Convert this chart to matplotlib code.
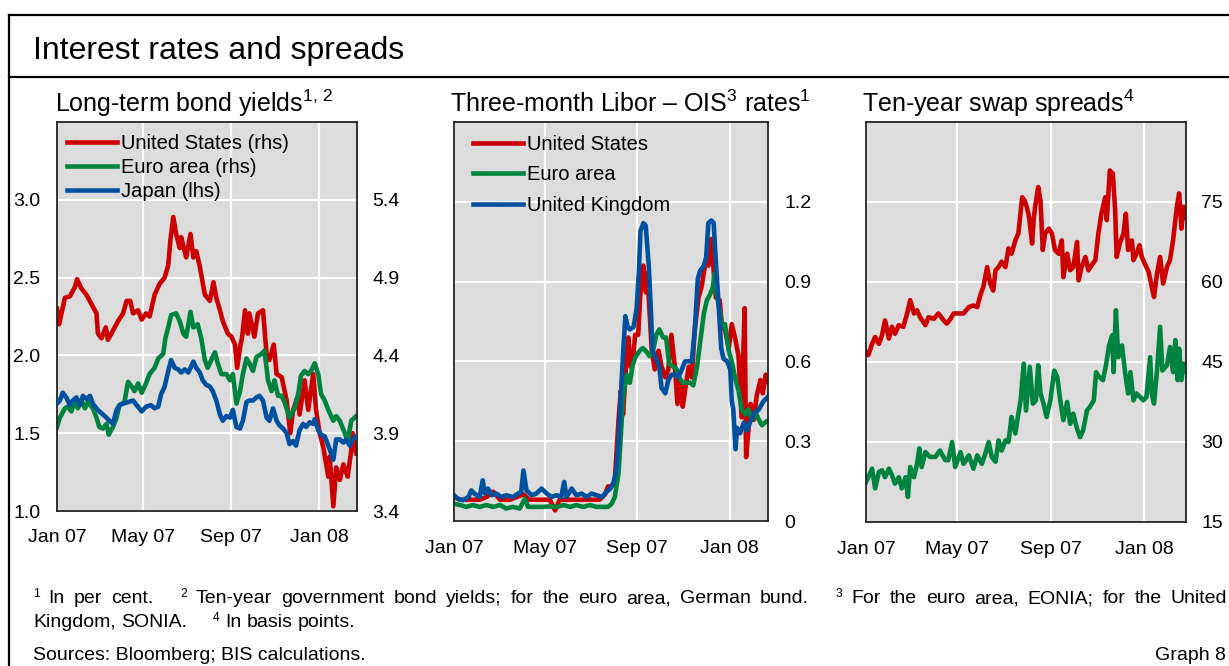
import numpy as np
import matplotlib
matplotlib.use('Agg')
import matplotlib.pyplot as plt
from matplotlib.lines import Line2D

plt.rcParams['font.family'] = ['Liberation Sans', 'DejaVu Sans']
plt.rcParams['mathtext.fontset'] = 'custom'
plt.rcParams['mathtext.rm'] = 'Liberation Sans'
plt.rcParams['mathtext.it'] = 'Liberation Sans:italic'
plt.rcParams['mathtext.bf'] = 'Liberation Sans:bold'

START = np.datetime64('2007-01-01')

# ---------------- data (days since 1 Jan 2007, values) ----------------
# Panel 1: long-term bond yields
us_yield_days = [0, 3, 11, 18, 25, 28, 34, 41, 48, 55, 57, 62, 68, 71, 78, 85, 92, 97, 102, 106,
                 113, 118, 124, 129, 136, 143, 150, 155, 158, 162, 166, 171, 173, 180, 186, 190,
                 194, 199, 206, 213, 218, 222, 227, 231, 238, 243, 248, 251, 255, 258, 262, 266,
                 268, 275, 280, 287, 292, 296, 302, 306, 313, 320, 325, 329, 335, 338, 345, 350,
                 357, 361, 366, 371, 378, 380, 385, 389, 394, 399, 405, 410, 412, 417]
us_yield = [4.70, 4.60, 4.77, 4.78, 4.84, 4.89, 4.83, 4.79, 4.73, 4.67, 4.54, 4.51, 4.58, 4.50,
            4.56, 4.62, 4.67, 4.75, 4.75, 4.67, 4.69, 4.63, 4.67, 4.65, 4.79, 4.86, 4.90, 4.98,
            5.14, 5.29, 5.18, 5.09, 5.16, 5.03, 5.18, 5.03, 5.07, 4.97, 4.79, 4.75, 4.87, 4.77,
            4.69, 4.62, 4.54, 4.52, 4.47, 4.32, 4.45, 4.52, 4.69, 4.54, 4.67, 4.52, 4.67, 4.69,
            4.41, 4.37, 4.47, 4.28, 4.26, 4.11, 3.90, 4.05, 4.13, 4.02, 4.24, 4.05, 4.28, 4.05,
            3.90, 3.81, 3.62, 3.75, 3.43, 3.68, 3.60, 3.70, 3.62, 3.79, 3.90, 3.77]

euro_yield_days = [0, 4, 11, 15, 20, 25, 29, 34, 39, 43, 50, 55, 59, 64, 69, 72, 78, 83, 87, 94,
                   99, 104, 108, 113, 118, 124, 129, 136, 141, 148, 151, 155, 159, 166, 171, 176,
                   180, 186, 190, 196, 201, 206, 210, 215, 220, 224, 229, 236, 241, 245, 250, 255,
                   259, 264, 268, 273, 278, 285, 289, 292, 294, 299, 303, 308, 313, 317, 324, 331,
                   336, 340, 345, 350, 354, 359, 364, 368, 373, 378, 385, 389, 394, 401, 405, 410, 417]
euro_yield = [3.94, 4.00, 4.06, 4.07, 4.04, 4.11, 4.06, 4.11, 4.06, 4.10, 4.06, 4.00, 3.94, 3.93,
              3.96, 3.89, 3.94, 4.00, 4.08, 4.10, 4.23, 4.20, 4.17, 4.22, 4.16, 4.22, 4.28, 4.32,
              4.38, 4.41, 4.51, 4.58, 4.66, 4.67, 4.62, 4.54, 4.52, 4.68, 4.58, 4.60, 4.51, 4.37,
              4.32, 4.37, 4.42, 4.35, 4.28, 4.28, 4.24, 4.28, 4.09, 4.17, 4.28, 4.38, 4.35, 4.30,
              4.39, 4.41, 4.43, 4.32, 4.24, 4.17, 4.24, 4.14, 4.14, 4.10, 4.00, 4.06, 4.15, 4.27,
              4.30, 4.28, 4.30, 4.35, 4.28, 4.15, 4.11, 4.05, 3.98, 4.01, 3.98, 3.90, 3.85, 3.98, 4.01]

japan_yield_days = [0, 4, 8, 13, 18, 22, 27, 32, 36, 41, 46, 50, 55, 59, 64, 69, 73, 78, 83, 87,
                    92, 99, 106, 111, 118, 124, 131, 136, 141, 145, 150, 155, 159, 164, 169, 173,
                    178, 183, 190, 194, 199, 203, 208, 213, 217, 222, 227, 231, 236, 241, 245, 250,
                    255, 259, 264, 268, 273, 278, 282, 287, 292, 296, 301, 306, 310, 315, 320, 324,
                    329, 333, 338, 343, 347, 352, 357, 359, 364, 368, 373, 378, 382, 385, 389, 394,
                    399, 403, 408, 412, 417]
japan_yield = [1.69, 1.71, 1.76, 1.73, 1.68, 1.71, 1.73, 1.68, 1.74, 1.72, 1.74, 1.69, 1.66, 1.64,
               1.62, 1.60, 1.58, 1.56, 1.65, 1.68, 1.69, 1.70, 1.71, 1.68, 1.64, 1.67, 1.68, 1.66,
               1.67, 1.75, 1.80, 1.90, 1.97, 1.92, 1.91, 1.89, 1.91, 1.89, 1.96, 1.92, 1.89, 1.84,
               1.81, 1.80, 1.77, 1.71, 1.62, 1.58, 1.61, 1.60, 1.65, 1.54, 1.53, 1.58, 1.70, 1.71,
               1.71, 1.73, 1.74, 1.71, 1.60, 1.58, 1.66, 1.58, 1.55, 1.53, 1.50, 1.43, 1.45, 1.42,
               1.52, 1.56, 1.54, 1.57, 1.56, 1.59, 1.52, 1.49, 1.48, 1.42, 1.37, 1.33, 1.46, 1.46,
               1.44, 1.46, 1.42, 1.46, 1.48]

# Panel 2: three-month Libor - OIS spreads
us_libor_days = [0, 8, 16, 25, 34, 43, 52, 61, 74, 83, 92, 100, 109, 118, 127, 134, 140, 149, 158,
                 167, 176, 185, 193, 200, 204, 209, 213, 218, 221, 224, 228, 231, 234, 237, 240, 244,
                 247, 251, 254, 256, 259, 262, 266, 271, 275, 280, 284, 288, 293, 296, 300, 303, 306,
                 311, 315, 319, 324, 328, 333, 337, 341, 344, 347, 352, 355, 359, 364, 368, 373, 377,
                 381, 385, 387, 390, 393, 397, 401, 406, 409, 413, 417]
us_libor = [0.09, 0.08, 0.08, 0.08, 0.08, 0.09, 0.11, 0.08, 0.08, 0.09, 0.10, 0.08, 0.08, 0.08,
            0.08, 0.04, 0.08, 0.08, 0.08, 0.08, 0.08, 0.08, 0.08, 0.10, 0.13, 0.13, 0.15, 0.38,
            0.49, 0.40, 0.59, 0.69, 0.58, 0.60, 0.70, 0.70, 0.86, 0.96, 0.86, 0.93, 0.79, 0.64,
            0.57, 0.64, 0.58, 0.54, 0.57, 0.70, 0.57, 0.44, 0.53, 0.43, 0.49, 0.58, 0.54, 0.72,
            0.84, 0.88, 0.97, 0.96, 1.06, 0.94, 0.84, 0.83, 0.73, 0.72, 0.65, 0.74, 0.68, 0.62,
            0.39, 0.80, 0.24, 0.34, 0.44, 0.38, 0.47, 0.53, 0.48, 0.55, 0.52]

euro_libor_days = [0, 8, 16, 25, 34, 43, 52, 61, 69, 78, 87, 94, 98, 109, 118, 127, 136, 145, 154,
                   162, 171, 180, 189, 198, 204, 209, 213, 218, 221, 224, 229, 233, 237, 241, 246,
                   250, 254, 259, 263, 268, 272, 277, 281, 285, 291, 295, 300, 304, 308, 313, 317,
                   322, 326, 331, 335, 339, 343, 345, 347, 352, 356, 359, 364, 368, 373, 377, 381,
                   386, 390, 395, 399, 404, 408, 412, 417]
euro_libor = [0.065, 0.060, 0.053, 0.060, 0.053, 0.060, 0.053, 0.060, 0.047, 0.053, 0.047, 0.084,
              0.053, 0.053, 0.053, 0.055, 0.053, 0.060, 0.053, 0.060, 0.053, 0.060, 0.053, 0.053,
              0.053, 0.065, 0.09, 0.18, 0.32, 0.47, 0.55, 0.52, 0.59, 0.62, 0.64, 0.65, 0.64,
              0.62, 0.63, 0.70, 0.72, 0.69, 0.69, 0.59, 0.58, 0.57, 0.53, 0.52, 0.52, 0.52, 0.51,
              0.58, 0.67, 0.78, 0.83, 0.85, 0.88, 0.93, 0.87, 0.79, 0.73, 0.74, 0.64, 0.60, 0.53,
              0.49, 0.42, 0.40, 0.42, 0.38, 0.41, 0.38, 0.36, 0.37, 0.38]

uk_libor_days = [0, 5, 12, 19, 23, 27, 34, 38, 41, 45, 50, 56, 63, 69, 78, 85, 89, 92, 96, 103,
                 109, 116, 123, 129, 136, 142, 146, 149, 156, 162, 169, 176, 182, 189, 196, 202,
                 207, 211, 215, 218, 221, 224, 227, 230, 233, 238, 242, 245, 247, 251, 254, 258,
                 261, 263, 268, 272, 275, 280, 284, 288, 293, 297, 302, 306, 311, 315, 319, 323,
                 326, 331, 334, 337, 341, 344, 347, 350, 354, 357, 362, 366, 368, 370, 373, 375,
                 379, 384, 388, 392, 397, 404, 410, 417]
uk_libor = [0.097, 0.084, 0.078, 0.090, 0.115, 0.103, 0.090, 0.153, 0.103, 0.122, 0.097, 0.103,
            0.090, 0.097, 0.090, 0.103, 0.109, 0.190, 0.115, 0.097, 0.103, 0.122, 0.103, 0.090,
            0.097, 0.090, 0.147, 0.090, 0.122, 0.097, 0.103, 0.090, 0.103, 0.097, 0.090, 0.109,
            0.122, 0.141, 0.190, 0.30, 0.47, 0.63, 0.77, 0.73, 0.72, 0.73, 0.80, 0.94, 1.09,
            1.12, 1.11, 0.96, 0.78, 0.64, 0.61, 0.58, 0.50, 0.48, 0.53, 0.55, 0.55, 0.54, 0.57,
            0.60, 0.60, 0.60, 0.72, 0.91, 0.94, 0.96, 0.99, 1.12, 1.13, 1.12, 0.97, 0.84, 0.65,
            0.61, 0.60, 0.57, 0.45, 0.42, 0.27, 0.35, 0.33, 0.37, 0.34, 0.37, 0.40, 0.42, 0.45, 0.47]

# Panel 3: ten-year swap spreads (basis points)
swap_red_days = [0, 3, 8, 12, 17, 21, 25, 30, 34, 38, 43, 49, 54, 58, 63, 67, 71, 78, 82, 89, 95,
                 102, 106, 111, 115, 122, 128, 135, 141, 146, 150, 154, 159, 163, 167, 170, 174,
                 178, 183, 187, 191, 196, 200, 205, 208, 211, 214, 218, 220, 222, 226, 229, 232,
                 235, 240, 244, 248, 253, 257, 259, 264, 268, 272, 277, 279, 283, 288, 292, 296,
                 301, 305, 309, 314, 316, 320, 324, 327, 329, 333, 338, 341, 344, 349, 351, 355,
                 359, 362, 366, 371, 375, 378, 382, 386, 390, 395, 399, 403, 408, 411, 414, 417, 420]
swap_red = [46.9, 46.3, 48.4, 49.7, 48.4, 50.0, 52.8, 49.4, 51.6, 50.3, 51.9, 51.6, 54.1, 56.6,
            54.1, 54.7, 53.4, 51.9, 53.4, 53.1, 54.1, 52.8, 52.2, 53.1, 54.1, 54.1, 54.1, 55.3,
            55.6, 55.3, 57.5, 59.1, 62.8, 59.7, 58.4, 62.2, 62.8, 63.8, 62.8, 66.3, 65.3, 67.8,
            69.1, 75.9, 75.3, 74.1, 72.2, 67.2, 71.6, 74.1, 77.8, 75.3, 66.0, 69.1, 70.0, 69.1,
            66.0, 65.3, 67.8, 60.9, 65.3, 62.2, 62.8, 67.5, 60.3, 62.8, 64.7, 62.2, 63.1, 64.1,
            69.1, 72.8, 75.9, 71.6, 80.9, 80.3, 73.4, 64.7, 67.2, 69.1, 72.8, 66.0, 67.8, 64.1,
            65.3, 66.9, 64.7, 63.4, 61.9, 59.1, 57.2, 61.6, 64.7, 59.7, 62.8, 64.1, 67.8, 74.1,
            76.6, 70.0, 74.1, 72.2]

swap_green_days = [0, 3, 8, 12, 17, 21, 25, 30, 34, 38, 43, 47, 52, 55, 58, 63, 67, 70, 73, 78, 84,
                   91, 97, 104, 108, 113, 117, 124, 128, 135, 141, 146, 152, 156, 161, 165, 170,
                   174, 178, 183, 187, 191, 196, 200, 203, 207, 210, 215, 219, 223, 226, 229, 233,
                   237, 242, 247, 251, 255, 259, 264, 268, 272, 277, 281, 285, 290, 294, 299, 302,
                   306, 311, 315, 319, 323, 325, 328, 331, 336, 340, 344, 347, 351, 355, 360, 364,
                   368, 373, 375, 378, 382, 386, 389, 395, 399, 403, 406, 409, 411, 414, 417, 420]
swap_green = [22.5, 23.4, 25.0, 21.3, 24.4, 24.7, 23.4, 25.0, 23.8, 22.2, 23.4, 21.3, 23.4, 19.7,
              25.3, 23.4, 25.9, 28.8, 25.3, 28.1, 27.2, 27.2, 28.4, 26.6, 26.6, 30.0, 25.3, 28.1,
              25.9, 27.5, 25.0, 27.5, 25.9, 27.5, 30.0, 27.2, 26.3, 30.3, 28.4, 30.3, 30.0, 34.7,
              31.6, 35.3, 37.8, 44.7, 35.9, 44.1, 37.2, 37.8, 44.4, 39.1, 37.2, 34.7, 37.8, 43.4,
              42.2, 37.8, 34.1, 37.5, 33.4, 35.3, 32.5, 30.9, 32.2, 35.9, 36.6, 37.8, 43.1, 42.2,
              41.6, 44.4, 48.1, 50.0, 43.1, 54.7, 45.9, 48.1, 43.1, 39.1, 43.1, 37.8, 39.1, 38.4,
              37.8, 38.4, 45.9, 39.1, 37.2, 43.4, 51.6, 43.4, 44.4, 47.8, 43.1, 49.1, 41.6, 47.5,
              41.6, 44.7, 43.4]

xtick_days = [0, 120, 243, 365]
xtick_labels = ['Jan 07', 'May 07', 'Sep 07', 'Jan 08']

footnote_line1 = [('1', 'sup'), ('In', 'w'), ('per', 'w'), ('cent.', 'w'),
                  ('2', 'sup'), ('Ten-year', 'w'), ('government', 'w'), ('bond', 'w'),
                  ('yields;', 'w'), ('for', 'w'), ('the', 'w'), ('euro', 'w'), ('area,', 'w'),
                  ('German', 'w'), ('bund.', 'w'),
                  ('3', 'sup'), ('For', 'w'), ('the', 'w'), ('euro', 'w'), ('area,', 'w'),
                  ('EONIA;', 'w'), ('for', 'w'), ('the', 'w'), ('United', 'w')]
footnote_line2 = [('Kingdom,', 'w'), ('SONIA.', 'w'), ('4', 'sup'), ('In', 'w'),
                  ('basis', 'w'), ('points.', 'w')]

RED = '#cc0000'
GREEN = '#00833e'
BLUE = '#0050a0'
BG = '#dcdcdc'
LW = 3.3
FN_SIZE = 14

W, H = 1229, 666
fig = plt.figure(figsize=(W / 100, H / 100), dpi=100)


def fx(x):
    return x / W


def fy(y):
    return 1 - y / H


def axes_px(l, t, r, b):
    return fig.add_axes([l / W, 1 - b / H, (r - l) / W, (b - t) / H])


def to_dates(days):
    return START + np.array(days).astype('timedelta64[D]')


def style_axes(ax, xmax_days):
    ax.set_facecolor(BG)
    ax.set_xlim(START, START + np.timedelta64(xmax_days, 'D'))
    ax.set_xticks(to_dates(xtick_days))
    ax.set_xticklabels(xtick_labels)
    ax.grid(True, color='white', lw=1.6)
    ax.set_axisbelow(True)
    ax.tick_params(axis='both', length=0, labelsize=14, colors='black')
    ax.tick_params(axis='x', pad=14)
    for s in ax.spines.values():
        s.set_color('#222222')
        s.set_linewidth(1.3)


# ---- Panel 1 ----
ax1 = axes_px(57, 122, 357, 511)
style_axes(ax1, 418)
ax1.tick_params(axis='x', pad=13)
l_us, = ax1.plot(to_dates(us_yield_days), us_yield, color=RED, lw=LW, label='United States (rhs)')
l_eu, = ax1.plot(to_dates(euro_yield_days), euro_yield, color=GREEN, lw=LW, label='Euro area (rhs)')
ax1.set_ylim(3.4, 5.9)
ax1b = ax1.twinx()
ax1.yaxis.tick_right()
ax1.set_yticks([3.4, 3.9, 4.4, 4.9, 5.4])
ax1.set_yticklabels(['3.4', '3.9', '4.4', '4.9', '5.4'])
ax1.tick_params(axis='y', length=0, labelsize=14, pad=11)
ax1b.yaxis.tick_left()
l_jp, = ax1b.plot(to_dates(japan_yield_days), japan_yield, color=BLUE, lw=LW, label='Japan (lhs)')
ax1b.set_ylim(1.0, 3.5)
ax1b.set_yticks([1.0, 1.5, 2.0, 2.5, 3.0])
ax1b.set_yticklabels(['1.0', '1.5', '2.0', '2.5', '3.0'])
ax1b.tick_params(axis='y', length=0, labelsize=14, pad=12)
ax1b.set_xlim(START, START + np.timedelta64(418, 'D'))
for s in ax1b.spines.values():
    s.set_visible(False)
ax1b.legend(handles=[l_us, l_eu, l_jp], loc='upper left', bbox_to_anchor=(0.033, 0.969),
            frameon=False, fontsize=14.5, handlelength=2.5, handletextpad=0.2,
            labelspacing=0.25, borderpad=0, borderaxespad=0)

# ---- Panel 2 ----
ax2 = axes_px(454, 122, 768, 521)
style_axes(ax2, 416)
l2a, = ax2.plot(to_dates(us_libor_days), us_libor, color=RED, lw=LW, label='United States')
l2b, = ax2.plot(to_dates(euro_libor_days), euro_libor, color=GREEN, lw=LW, label='Euro area')
l2c, = ax2.plot(to_dates(uk_libor_days), uk_libor, color=BLUE, lw=LW, label='United Kingdom')
ax2.set_ylim(0, 1.5)
ax2.set_yticks([0, 0.3, 0.6, 0.9, 1.2])
ax2.set_yticklabels(['0', '0.3', '0.6', '0.9', '1.2'])
ax2.yaxis.tick_right()
ax2.tick_params(axis='y', pad=12)
ax2.legend(handles=[l2a, l2b, l2c], loc='upper left', bbox_to_anchor=(0.0605, 0.968),
           frameon=False, fontsize=14.5, handlelength=2.5, handletextpad=0.2,
           labelspacing=0.57, borderpad=0, borderaxespad=0)

# ---- Panel 3 ----
ax3 = axes_px(866, 122, 1186, 522)
style_axes(ax3, 420)
ax3.plot(to_dates(swap_red_days), swap_red, color=RED, lw=LW)
ax3.plot(to_dates(swap_green_days), swap_green, color=GREEN, lw=LW)
ax3.set_ylim(15, 90)
ax3.set_yticks([15, 30, 45, 60, 75])
ax3.yaxis.tick_right()
ax3.tick_params(axis='y', pad=11)

# ---- titles ----
fig.text(fx(33), fy(59), 'Interest rates and spreads', fontsize=23, va='baseline', ha='left')
fig.text(fx(55), fy(112), r'Long-term bond yields$^{1,\,2}$', fontsize=18, va='baseline')
fig.text(fx(450), fy(112), r'Three-month Libor – OIS$^{3}$ rates$^{1}$', fontsize=18, va='baseline')
fig.text(fx(862), fy(112), r'Ten-year swap spreads$^{4}$', fontsize=18, va='baseline')

# ---- footnotes (word placement, first line justified) ----
renderer = fig.canvas.get_renderer()


def layout_line(tokens, x0, base_y, x1=None):
    arts = []
    for txt, kind in tokens:
        if kind == 'sup':
            t = fig.text(0, fy(base_y - 6), txt, fontsize=FN_SIZE * 0.62, va='baseline')
        else:
            t = fig.text(0, fy(base_y), txt, fontsize=FN_SIZE, va='baseline')
        arts.append((t, kind))
    widths = [t.get_window_extent(renderer).width for t, _ in arts]
    space = FN_SIZE * 100 / 72 * 0.278
    # gap weights: separators before a footnote number count as three spaces
    weights = [3.0 if arts[i + 1][1] == 'sup' else 1.0 for i in range(len(arts) - 1)]
    if x1 is not None:
        unit = (x1 - x0 - sum(widths)) / sum(weights)
    else:
        unit = space * 1.6
    x = x0
    for i, (t, kind) in enumerate(arts):
        t.set_x(fx(x))
        x += widths[i]
        if i < len(weights):
            g = unit * weights[i]
            if x1 is None and weights[i] == 1.0:
                g = space
            x += g


layout_line(footnote_line1, 33, 603, 1227)
layout_line(footnote_line2, 33, 627)
fig.text(fx(33), fy(660), 'Sources: Bloomberg; BIS calculations.', fontsize=FN_SIZE, va='baseline')
fig.text(fx(1226), fy(660), 'Graph 8', fontsize=FN_SIZE, va='baseline', ha='right')

# ---- frame lines ----
fig.add_artist(Line2D([fx(9), fx(1229)], [fy(15), fy(15)], color='black', lw=1.6, transform=fig.transFigure))
fig.add_artist(Line2D([fx(9), fx(1229)], [fy(77), fy(77)], color='black', lw=1.6, transform=fig.transFigure))
fig.add_artist(Line2D([fx(9), fx(9)], [fy(15), fy(666)], color='black', lw=1.6, transform=fig.transFigure))

fig.savefig('out.png', dpi=100)
